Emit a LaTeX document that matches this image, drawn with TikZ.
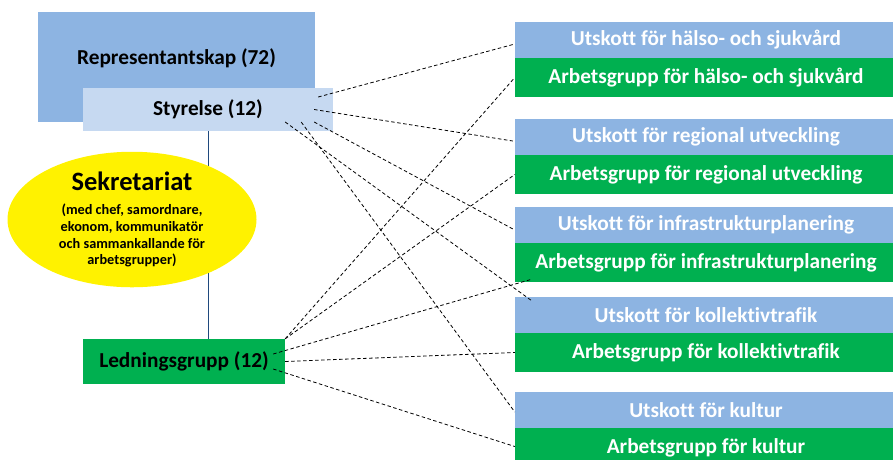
\documentclass[tikz,border=0pt]{standalone}
\usepackage{fontspec}
\setmainfont{Carlito}[Ligatures=NoCommon]
\usetikzlibrary{shapes.geometric}
\usetikzlibrary{positioning}
\definecolor{repblue}{HTML}{8DB4E2}
\definecolor{styblue}{HTML}{C6D9F1}
\definecolor{grpgreen}{HTML}{00B050}
\definecolor{linkblue}{HTML}{1F497D}
\tikzstyle{org}=[rectangle,inner sep=0pt,font=\bfseries\fontsize{21.3}{25}\selectfont]
\tikzstyle{council}=[org,fill=repblue,minimum width=277pt,minimum height=110pt,text height=16pt,text depth=22pt]
\tikzstyle{board}=[org,fill=styblue,minimum width=250pt,minimum height=43pt]
\tikzstyle{mgmt}=[org,fill=grpgreen,minimum width=202pt,minimum height=45pt]
\tikzstyle{utskott}=[org,fill=repblue,text=white,minimum width=382pt,minimum height=36pt]
\tikzstyle{arbgrp}=[org,fill=grpgreen,text=white,minimum width=382pt,minimum height=39pt]
\tikzstyle{secr}=[ellipse,fill=yellow,inner sep=0pt,minimum width=249pt,minimum height=125pt,align=center,font=\bfseries\fontsize{14.3}{16.7}\selectfont]
\tikzstyle{link}=[black,line width=0.8pt,dash pattern=on 3.5pt off 2.5pt]

\begin{document}
\begin{tikzpicture}[x=1pt,y=-1pt]
    \useasboundingbox (0,0) rectangle (893,459);
    % left side
    \node[council] at (176.5,67) (rep) {Representantskap (72)};
    \node[board] at (208,109.5) (styr) {Styrelse (12)};
    \node[mgmt] at (184,361.5) (led) {Ledningsgrupp (12)};
    \draw[linkblue,line width=1pt] (styr.south) -- (styr.south |- led.north);
    \node[secr] at (132,219.5) (sekr) {{\fontsize{26.5}{28}\selectfont Sekretariat}\\[8pt]
      (med chef, samordnare,\\ekonom, kommunikatör\\och sammankallande för\\arbetsgrupper)};
    % right side
    \node[utskott] at (706,40) (ut1) {Utskott för hälso- och sjukvård};
    \node[arbgrp] at (706,77.5) (ar1) {Arbetsgrupp för hälso- och sjukvård};
    \node[utskott] at (706,137) (ut2) {Utskott för regional utveckling};
    \node[arbgrp] at (706,174.5) (ar2) {Arbetsgrupp för regional utveckling};
    \node[utskott] at (706,225) (ut3) {Utskott för infrastrukturplanering};
    \node[arbgrp] at (706,262.5) (ar3) {Arbetsgrupp för infrastrukturplanering};
    \node[utskott] at (706,315) (ut4) {Utskott för kollektivtrafik};
    \node[arbgrp] at (706,352.5) (ar4) {Arbetsgrupp för kollektivtrafik};
    \node[utskott] at (706,410) (ut5) {Utskott för kultur};
    \node[arbgrp] at (706,447.5) (ar5) {Arbetsgrupp för kultur};
    % Styrelse to utskott
    \draw[link] ([xshift=-15pt,yshift=12.5pt]styr.east) -- ([yshift=-4pt]ut1.west);
    \draw[link] ([xshift=-19pt]styr.east) -- ([xshift=-2pt,yshift=-4pt]ut2.west);
    \draw[link] ([xshift=-19pt,yshift=-12.5pt]styr.east) -- ([yshift=-5pt]ut3.west);
    \draw[link] ([xshift=-48pt,yshift=-12.5pt]styr.east) -- ([xshift=17pt,yshift=-4pt]ut4.north west);
    \draw[link] ([xshift=-32pt,yshift=-12.5pt]styr.east) -- ([yshift=-2pt]ut5.west);
    % Ledningsgrupp to arbetsgrupper
    \draw[link] (led.north east) -- (ar1.west);
    \draw[link] (led.north east) -- (ar2.west);
    \draw[link] ([xshift=-12pt,yshift=7.5pt]led.east) -- ([xshift=17pt,yshift=3pt]ar3.south west);
    \draw[link] (led.east) -- (ar4.west);
    \draw[link] ([xshift=-12pt,yshift=-7.5pt]led.east) -- ([yshift=1pt]ar5.west);
\end{tikzpicture}
\end{document}
